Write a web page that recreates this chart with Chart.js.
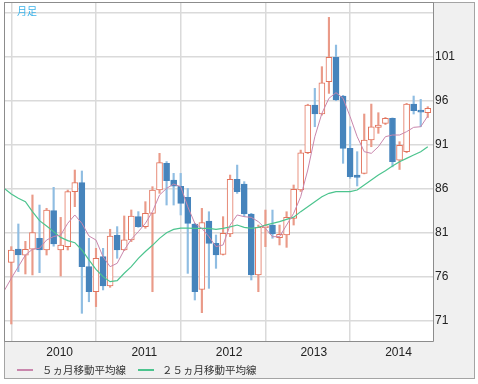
<!DOCTYPE html>
<html><head><meta charset="utf-8">
<script src="https://cdn.jsdelivr.net/npm/chart.js@4"></script>
<style>html,body{margin:0;padding:0;background:#fff;}</style>
</head><body>
<canvas id="c" width="478" height="384"></canvas>
<script>
const chartTitle = '月足';
const months = ['2009-06',
 '2009-07','2009-08','2009-09','2009-10','2009-11','2009-12',
 '2010-01','2010-02','2010-03','2010-04','2010-05','2010-06','2010-07','2010-08','2010-09','2010-10','2010-11','2010-12',
 '2011-01','2011-02','2011-03','2011-04','2011-05','2011-06','2011-07','2011-08','2011-09','2011-10','2011-11','2011-12',
 '2012-01','2012-02','2012-03','2012-04','2012-05','2012-06','2012-07','2012-08','2012-09','2012-10','2012-11','2012-12',
 '2013-01','2013-02','2013-03','2013-04','2013-05','2013-06','2013-07','2013-08','2013-09','2013-10','2013-11','2013-12',
 '2014-01','2014-02','2014-03','2014-04','2014-05','2014-06'];
const openV = [null,
 77.67,79.18,78.47,79.15,80.40,79.07,83.53,79.07,79.45,85.69,86.71,77.18,74.35,78.32,74.99,80.74,79.07,80.21,82.85,81.72,
 83.23,85.87,88.90,87.00,86.30,85.04,82.02,74.61,82.36,79.82,78.58,80.88,87.08,86.55,83.15,76.23,81.60,81.90,80.47,80.77,
 82.66,85.87,90.10,95.51,94.49,98.16,100.91,96.53,90.60,87.57,87.76,91.54,92.98,93.43,94.00,89.27,90.22,95.62,94.94,94.64];
const highV = [null,
 79.45,82.02,80.05,85.31,84.17,83.80,86.18,82.77,85.87,88.14,88.03,80.40,79.26,79.26,81.42,81.72,82.93,83.61,83.42,84.55,
 86.25,90.03,89.10,87.76,87.76,86.06,82.10,83.79,83.41,80.77,82.85,87.57,88.70,86.82,83.23,81.90,83.60,83.60,81.90,83.41,
 86.44,90.40,95.60,97.40,99.86,105.45,102.31,96.60,93.05,90.22,94.49,95.62,94.64,94.10,94.05,91.35,95.70,96.53,96.15,95.32];
const lowV = [null,
 70.68,76.62,76.35,76.24,76.50,78.50,79.50,76.12,79.07,83.98,71.89,73.20,72.65,74.54,74.84,78.13,79.00,80.02,81.64,81.53,
 74.34,85.50,84.17,84.17,83.04,76.42,73.40,71.96,74.72,76.99,78.50,80.58,85.49,82.85,75.67,74.34,79.45,80.40,79.64,79.37,
 81.90,85.70,90.00,93.05,94.37,96.83,96.00,88.90,87.20,86.33,87.70,90.78,92.30,93.30,88.50,88.20,90.10,94.49,93.05,94.10];
const closeV = [null,
 79.07,78.50,79.15,81.04,79.07,83.61,79.75,79.64,85.69,86.71,77.18,74.35,78.13,74.99,80.66,79.07,80.21,82.93,81.72,83.23,
 85.87,88.97,86.93,86.30,84.36,82.09,74.34,82.17,79.82,78.50,80.96,87.08,85.68,83.15,76.23,81.64,81.80,80.88,80.85,82.77,
 85.95,90.10,95.51,94.49,98.04,100.91,96.08,90.60,87.38,87.30,91.54,93.05,93.24,94.00,89.08,90.94,95.62,94.87,94.70,95.13];
const ma5 = [74.45,
 75.86,77.18,78.50,79.15,79.26,80.20,80.60,80.77,82.10,83.04,82.10,80.66,80.20,78.30,77.18,77.56,79.07,80.28,81.15,82.10,
 83.41,85.30,86.06,86.55,86.25,83.98,82.09,81.52,80.58,79.45,79.64,81.90,83.04,82.85,82.77,82.28,81.52,80.58,80.58,81.90,
 83.23,85.12,88.14,91.92,94.56,96.27,96.91,96.27,94.19,91.92,90.22,90.03,90.78,91.92,92.11,92.11,92.49,92.98,93.05,94.26];
const ma25 = [86.05,
 85.42,84.93,84.55,83.42,82.40,81.79,81.15,80.50,80.13,79.90,79.07,77.94,76.88,76.05,75.48,75.60,76.43,77.18,78.13,78.90,
 79.60,80.39,81.03,81.41,81.56,81.56,81.52,81.52,81.52,81.41,81.52,81.70,81.90,81.64,81.52,81.64,81.90,82.09,82.28,82.55,
 82.80,83.42,83.98,84.55,85.12,85.50,85.68,85.68,85.68,85.87,86.44,87.00,87.57,88.06,88.59,89.08,89.46,89.84,90.22,90.78];
const yTickVals = [71,76,81,86,91,96,101,106];
const yTickLabels = ['71','76','81','86','91','96','101',''];
const seriesNames = ['５ヵ月移動平均線','２５ヵ月移動平均線'];

const RED = '#e2735c', RED_W = '#ea9a88', BLUE = '#4684bc', BLUE_W = '#8fbde2';
const up = i => closeV[i] >= openV[i];
const yearTickIdx = months.map((m,i)=> m.endsWith('-01') ? i : -1).filter(i=>i>=0);

const frame = {
  id:'frame',
  beforeDraw(ch){
    const c = ch.ctx, a = ch.chartArea;
    c.save();
    c.fillStyle='#fff'; c.fillRect(0,0,ch.width,ch.height);
    c.fillStyle='#f0f0f0'; c.fillRect(4,2,471,377);
    c.strokeStyle='#a4a4a4'; c.lineWidth=1; c.strokeRect(4.5,2.5,470,376);
    c.fillStyle='#fff'; c.fillRect(a.left,a.top,a.right-a.left,a.bottom-a.top);
    c.restore();
  },
  afterDraw(ch){
    const c = ch.ctx, a = ch.chartArea;
    c.save();
    c.strokeStyle='#8c8c8c'; c.lineWidth=1;
    c.beginPath();
    c.moveTo(a.left-0.5, a.top-0.5); c.lineTo(a.right+0.5, a.top-0.5);
    c.lineTo(a.right+0.5, a.bottom+0.5); c.lineTo(a.left-0.5, a.bottom+0.5); c.closePath();
    c.stroke();
    c.fillStyle='#3db3ea'; c.font='10px "Noto Sans CJK JP"'; c.textBaseline='middle';
    c.fillText(chartTitle, 17, 11.5);
    const items = [[17,42],[138,162]];
    const ds = [ch.data.datasets[2], ch.data.datasets[3]];
    c.font='10.5px "Noto Sans CJK JP"';
    ds.forEach((d,k)=>{
      c.strokeStyle=d.borderColor; c.lineWidth=2;
      c.beginPath(); c.moveTo(items[k][0],370); c.lineTo(items[k][0]+16,370); c.stroke();
      c.fillStyle='#333'; c.fillText(d.label, items[k][1], 370.5);
    });
    c.restore();
  }
};

const idx = months.map((m,i)=>i);
const valid = idx.filter(i=>openV[i]!=null);
new Chart(document.getElementById('c'), {
  type:'bar',
  data:{ datasets:[
    { label:'wick', order:3, grouped:false, barThickness:1.5, borderWidth:0,
      data: valid.map(i=>({x:i, y:[lowV[i], highV[i]]})),
      backgroundColor: valid.map(i=> up(i)?RED_W:BLUE_W) },
    { label:'body', order:2, grouped:false, barThickness:6, borderWidth:1, borderSkipped:false,
      data: valid.map(i=>({x:i, y:[openV[i], closeV[i]]})),
      backgroundColor: valid.map(i=> up(i)?'#ffffff':BLUE),
      borderColor: valid.map(i=> up(i)?RED:BLUE) },
    { type:'line', label:seriesNames[0], order:1, data: idx.map(i=>({x:i, y:ma5[i]})),
      borderColor:'#c987ad', borderWidth:1, pointRadius:0, tension:0 },
    { type:'line', label:seriesNames[1], order:1, data: idx.map(i=>({x:i, y:ma25[i]})),
      borderColor:'#4cc48e', borderWidth:1.2, pointRadius:0, tension:0 }
  ]},
  options:{
    responsive:false, animation:false, devicePixelRatio:1,
    layout:{ padding:{left:5, top:3, right:0, bottom:0} },
    plugins:{ legend:{display:false}, tooltip:{enabled:false} },
    scales:{
      x:{ type:'linear', min:0.11, max:60.74, offset:false,
        grid:{ color:'#dadada', lineWidth:1.5, drawTicks:false }, border:{display:false},
        afterBuildTicks: s => { s.ticks = yearTickIdx.map(v=>({value:v})); },
        ticks:{ autoSkip:false, maxRotation:0, labelOffset:6, padding:4, color:'#222',
          font:{family:'"Liberation Sans", Arial', size:12},
          callback: v => months[v] ? months[v].slice(0,4) : '' },
        afterFit: s => { s.height = 43; s.paddingLeft = 0; s.paddingRight = 0; }
      },
      y:{ position:'right', min:68.75, max:107.08,
        grid:{ color:'#dadada', lineWidth:1.5, drawTicks:false }, border:{display:false},
        afterBuildTicks: s => { s.ticks = yTickVals.map(v=>({value:v})); },
        ticks:{ padding:2, color:'#222', font:{family:'"Liberation Sans", Arial', size:12},
          callback: (v, i) => yTickLabels[i] },
        afterFit: s => { s.width = 45; s.paddingTop = 0; s.paddingBottom = 0; }
      }
    }
  },
  plugins:[frame]
});
</script>
</body></html>
